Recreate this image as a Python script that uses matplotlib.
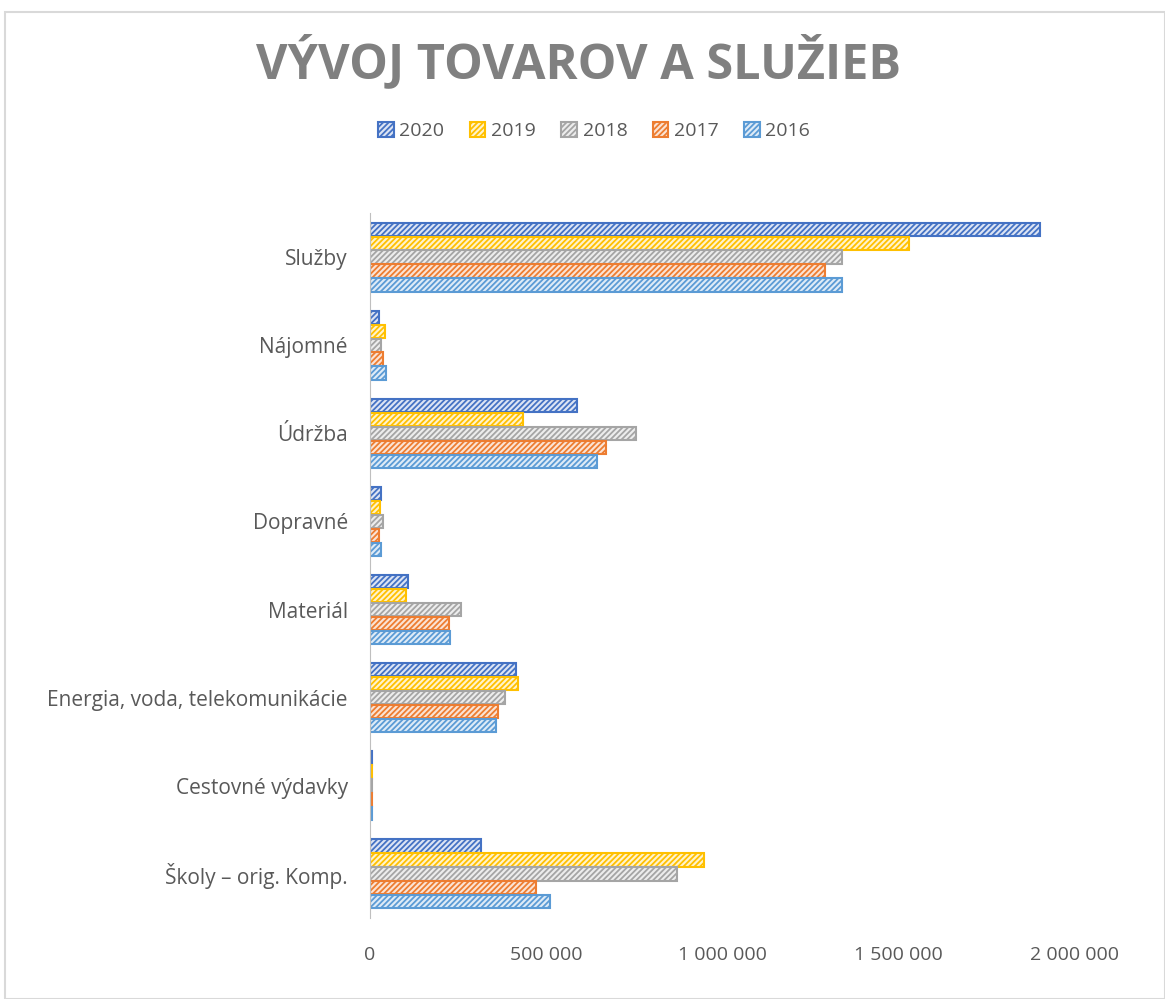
import matplotlib.pyplot as plt
import numpy as np
from matplotlib.patches import Rectangle

plt.rcParams['font.family'] = ['Open Sans', 'DejaVu Sans']
plt.rcParams['hatch.linewidth'] = 1.3

categories = ["Služby", "Nájomné", "Údržba", "Dopravné", "Materiál",
              "Energia, voda, telekomunikácie", "Cestovné výdavky",
              "Školy – orig. Komp."]
years = ["2020", "2019", "2018", "2017", "2016"]

v2020 = [1900000, 25000, 586000, 31000, 109000, 414000, 6000, 316000]
v2019 = [1530000, 43000, 434000, 29000, 103000, 420000, 5000, 948000]
v2018 = [1340000, 30000, 754000, 37000, 257000, 383000, 6000, 870000]
v2017 = [1290000, 37000, 669000, 26000, 223000, 363000, 6000, 472000]
v2016 = [1340000, 45000, 643000, 31000, 226000, 357000, 6000, 510000]
values = [v2020, v2019, v2018, v2017, v2016]

edge_colors = ["#4472C4", "#FFC000", "#A5A5A5", "#ED7D31", "#5B9BD5"]
face_colors = ["#DCE4F4", "#FFF3CC", "#EDEDED", "#FBE3D4", "#DEEBF7"]

fig = plt.figure(figsize=(11.65, 9.99), dpi=100)
ax = fig.add_axes([370 / 1165, 1 - 918 / 999, (1075 - 370) / 1165, (918 - 213) / 999])

y = np.arange(len(categories))
h = 0.158
for i, (yr, vals) in enumerate(zip(years, values)):
    ax.barh(y - 2 * h + i * h, vals, height=h * 0.95, color=face_colors[i],
            edgecolor=edge_colors[i], hatch="//////", linewidth=1.5, label=yr)

ax.set_xlim(0, 2000000)
ax.set_ylim(len(categories) - 0.5, -0.5)
ax.set_yticks(y)
ax.set_yticklabels(categories, fontsize=15, color="#595959")
ax.set_xticks([0, 500000, 1000000, 1500000, 2000000])
ax.set_xticklabels(["0", "500 000", "1 000 000", "1 500 000", "2 000 000"],
                   fontsize=14, color="#595959")
ax.tick_params(axis="both", length=0)
ax.tick_params(axis="x", pad=20)
ax.tick_params(axis="y", pad=16)
for s in ["top", "right", "bottom"]:
    ax.spines[s].set_visible(False)
ax.spines["left"].set_color("#BFBFBF")

fig.text(0.497, 1 - 63 / 999, "VÝVOJ TOVAROV A SLUŽIEB", ha="center", va="center",
         fontsize=35, fontweight="bold", color="#808080")
fig.legend(loc="center", bbox_to_anchor=(0.51, 1 - 131 / 999), ncol=5,
           frameon=False, fontsize=14, handlelength=0.8, handleheight=0.8,
           handletextpad=0.3, columnspacing=1.3, labelcolor="#595959")

fig.patches.append(Rectangle((5 / 1165, 0), 1 - 5 / 1165, 1 - 12 / 999,
                             transform=fig.transFigure, fill=False,
                             edgecolor="#D9D9D9", linewidth=1.5))

fig.savefig("out.png", dpi=100)
